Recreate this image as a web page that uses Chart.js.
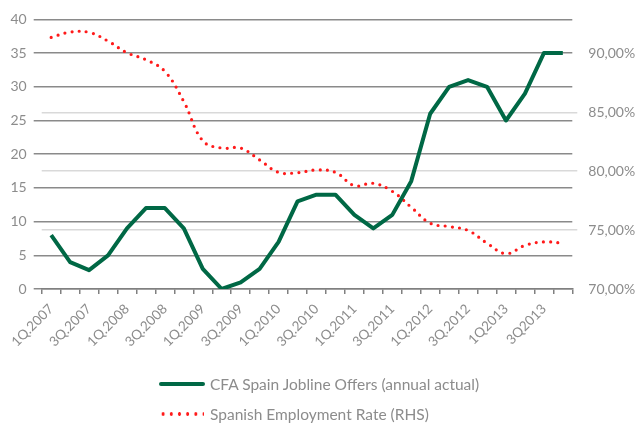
<!DOCTYPE html>
<html>
<head>
<meta charset="utf-8">
<script src="https://cdn.jsdelivr.net/npm/chart.js@4"></script>
<style>
  html,body{margin:0;padding:0;background:#fff;}
  #wrap{position:relative;width:643px;height:425px;}
  canvas{position:absolute;left:0;top:0;}
  .leg{position:absolute;left:159px;font-family:Lato,"Liberation Sans",sans-serif;font-size:15.5px;color:#8c8c8c;white-space:nowrap;display:flex;align-items:center;}
  .sw{width:46px;height:4px;margin-right:5px;}
  .solid{background:#006845;border-radius:2px;}
  .dots{height:4px;background-image:radial-gradient(circle,#ff1a1a 1.6px,transparent 1.9px);background-size:8.2px 4px;background-repeat:repeat-x;width:45px;margin-right:6px;}
</style>
</head>
<body>
<div id="wrap">
  <canvas id="c" width="643" height="425"></canvas>
  <div class="leg" id="leg1" style="top:375px"><span class="sw solid"></span><span>CFA Spain Jobline Offers (annual actual)</span></div>
  <div class="leg" id="leg2" style="top:405px"><span class="sw dots"></span><span>Spanish Employment Rate (RHS)</span></div>
</div>
<script>
const quarters = [
  "1Q.2007","2Q.2007","3Q.2007","4Q.2007",
  "1Q.2008","2Q.2008","3Q.2008","4Q.2008",
  "1Q.2009","2Q.2009","3Q.2009","4Q.2009",
  "1Q.2010","2Q.2010","3Q.2010","4Q.2010",
  "1Q.2011","2Q.2011","3Q.2011","4Q.2011",
  "1Q.2012","2Q.2012","3Q.2012","4Q.2012",
  "1Q2013","2Q2013","3Q2013","4Q2013"
];
const joblineOffers = [8,4,2.8,5,9,12,12,9,3,0,1,3,7,13,14,14,11,9,11,16,26,30,31,30,25,29,35,35];
const employmentRate = [91.35,91.8,91.78,91.04,90.05,89.46,88.47,85.9,82.58,81.96,81.96,80.95,79.9,79.87,80.1,79.9,78.77,78.97,78.29,76.94,75.58,75.3,74.97,73.89,73.0,73.7,74.0,73.89];
const seriesNames = ["CFA Spain Jobline Offers (annual actual)","Spanish Employment Rate (RHS)"];

const FONT = 'Lato, "Liberation Sans", sans-serif';
const GRAY = '#8c8c8c';

new Chart(document.getElementById('c'), {
  type: 'line',
  data: {
    labels: quarters,
    datasets: [
      {
        label: seriesNames[0],
        data: joblineOffers,
        yAxisID: 'y',
        borderColor: '#006845',
        borderWidth: 4,
        pointRadius: 0,
        tension: 0,
        borderJoinStyle: 'round',
        order: 1
      },
      {
        label: seriesNames[1],
        data: employmentRate,
        yAxisID: 'y2',
        borderColor: '#ff1a1a',
        borderWidth: 3.2,
        borderDash: [0, 7.2],
        borderCapStyle: 'round',
        pointRadius: 0,
        tension: 0.4,
        order: 2
      }
    ]
  },
  options: {
    responsive: false,
    animation: false,
    layout: { padding: { top: 12, bottom: 70, left: 0, right: 0 } },
    plugins: { legend: { display: false }, tooltip: { enabled: false } },
    scales: {
      x: {
        offset: true,
        grid: { offset: true, drawOnChartArea: false, drawTicks: true, tickLength: 5, color: '#808080', lineWidth: 1.5 },
        border: { display: true, color: '#808080', width: 1.5 },
        ticks: {
          autoSkip: false, maxRotation: 45, minRotation: 45, padding: 7,
          color: GRAY, font: { family: FONT, size: 13.5 },
          callback: function(v, i) { return i % 2 === 0 ? quarters[i] : ''; }
        },
        afterFit: function(s) { s.height = 66; }
      },
      y: {
        position: 'left',
        min: 0, max: 40,
        ticks: { stepSize: 5, color: GRAY, font: { family: FONT, size: 14 }, padding: 7 },
        grid: { color: '#8a8a8a', lineWidth: 1.5, tickLength: 8 },
        border: { display: false },
        afterFit: function(s) { s.width = 41.7; }
      },
      y2: {
        position: 'right',
        min: 70, max: 92.88,
        ticks: {
          stepSize: 5, color: GRAY, font: { family: FONT, size: 14 }, padding: 11,
          callback: function(v) { return v.toFixed(2).replace('.', ',') + '%'; }
        },
        afterBuildTicks: function(s) { s.ticks = s.ticks.filter(t => t.value <= 90.001); },
        grid: {
          color: function(ctx) { const v = ctx.tick && ctx.tick.value; return (v === 70 || v === 90) ? 'rgba(0,0,0,0)' : '#d9d9d9'; },
          lineWidth: 1.5, tickLength: 5
        },
        border: { display: false },
        afterFit: function(s) { s.width = 70.7; }
      }
    }
  }
});
</script>
</body>
</html>
